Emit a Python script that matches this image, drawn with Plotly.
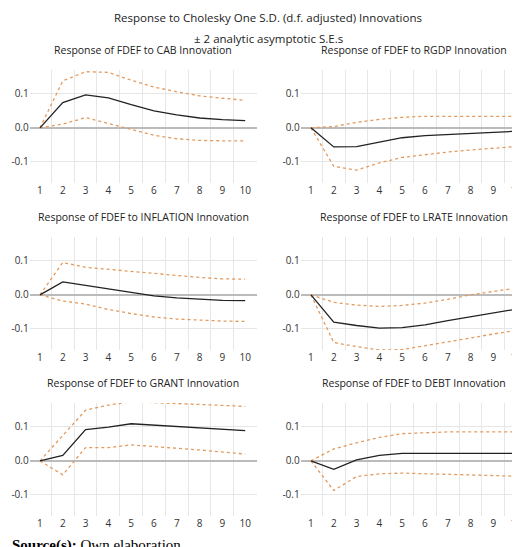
import plotly.graph_objects as go

steps = list(range(1, 11))
titles = ["Response of FDEF to CAB Innovation", "Response of FDEF to RGDP Innovation",
          "Response of FDEF to INFLATION Innovation", "Response of FDEF to LRATE Innovation",
          "Response of FDEF to GRANT Innovation", "Response of FDEF to DEBT Innovation"]
cab_mid = [0, 0.074, 0.097, 0.088, 0.068, 0.05, 0.038, 0.029, 0.024, 0.021]
cab_up = [0, 0.138, 0.165, 0.163, 0.14, 0.12, 0.106, 0.094, 0.087, 0.081]
cab_lo = [0, 0.011, 0.030, 0.013, -0.005, -0.022, -0.032, -0.037, -0.038, -0.038]
rgdp_mid = [0, -0.056, -0.055, -0.041, -0.029, -0.023, -0.019, -0.016, -0.013, -0.010]
rgdp_up = [0, 0.004, 0.016, 0.025, 0.031, 0.034, 0.034, 0.034, 0.034, 0.034]
rgdp_lo = [0, -0.113, -0.124, -0.103, -0.087, -0.078, -0.071, -0.065, -0.06, -0.055]
infl_mid = [0, 0.038, 0.028, 0.017, 0.006, -0.003, -0.009, -0.013, -0.016, -0.017]
infl_up = [0, 0.095, 0.081, 0.075, 0.068, 0.061, 0.056, 0.051, 0.047, 0.046]
infl_lo = [0, -0.018, -0.027, -0.043, -0.055, -0.065, -0.071, -0.075, -0.077, -0.078]
lrate_mid = [0, -0.08, -0.09, -0.098, -0.096, -0.088, -0.076, -0.065, -0.053, -0.042]
lrate_up = [0, -0.022, -0.03, -0.034, -0.031, -0.024, -0.013, 0, 0.01, 0.02]
lrate_lo = [0, -0.14, -0.152, -0.162, -0.161, -0.149, -0.137, -0.126, -0.115, -0.104]
grant_mid = [0, 0.016, 0.092, 0.099, 0.109, 0.105, 0.102, 0.098, 0.094, 0.089]
grant_up = [0, 0.074, 0.149, 0.164, 0.174, 0.171, 0.169, 0.167, 0.163, 0.160]
grant_lo = [0, -0.041, 0.039, 0.039, 0.047, 0.041, 0.037, 0.032, 0.026, 0.02]
debt_mid = [0, -0.025, 0.003, 0.016, 0.022, 0.022, 0.022, 0.022, 0.022, 0.022]
debt_up = [0, 0.035, 0.053, 0.069, 0.08, 0.083, 0.085, 0.085, 0.085, 0.085]
debt_lo = [0, -0.087, -0.046, -0.038, -0.036, -0.038, -0.040, -0.043, -0.044, -0.045]

panels = [(cab_mid, cab_up, cab_lo), (rgdp_mid, rgdp_up, rgdp_lo),
          (infl_mid, infl_up, infl_lo), (lrate_mid, lrate_up, lrate_lo),
          (grant_mid, grant_up, grant_lo), (debt_mid, debt_up, debt_lo)]

W, H = 520, 547
FONT = "Open Sans"
xdoms = [(21.7 / W, 248.6 / W), (292.7 / W, 519.6 / W)]
row_tops = [62, 229, 395]
PH = 113
fig = go.Figure()
layout = dict(width=W, height=H, margin=dict(l=0, r=0, t=0, b=0, autoexpand=False), showlegend=False,
              plot_bgcolor="white", paper_bgcolor="white",
              font=dict(family=FONT, size=10, color="#333"))
annotations = [
    dict(text="Response to Cholesky One S.D. (d.f. adjusted) Innovations", x=0.5, y=1 - 10 / H,
         xref="paper", yref="paper", xanchor="center", yanchor="middle", showarrow=False,
         font=dict(size=11.5, family=FONT, color="#222")),
    dict(text="± 2 analytic asymptotic S.E.s", x=0.5, y=1 - 31 / H,
         xref="paper", yref="paper", xanchor="center", yanchor="middle", showarrow=False,
         font=dict(size=11.5, family=FONT, color="#222")),
    dict(text="<b>Source(s):</b> Own elaboration", x=2 / W, y=1 - 537 / H, xanchor="left", yanchor="middle",
         xref="paper", yref="paper", showarrow=False, font=dict(size=15, family="Liberation Serif", color="#000")),
]
for i, (mid, up, lo) in enumerate(panels):
    r, c = divmod(i, 2)
    n = i + 1
    xa = "x" if n == 1 else f"x{n}"
    ya = "y" if n == 1 else f"y{n}"
    top = row_tops[r]
    ydom = (1 - (top + PH) / H, 1 - top / H)
    for ys, col, dash in [(up, "#E39A5E", "dot"), (lo, "#E39A5E", "dot"), (mid, "#222", "solid")]:
        fig.add_trace(go.Scatter(x=steps, y=ys, mode="lines", xaxis=xa, yaxis=ya,
                                 line=dict(color=col, width=1.3, dash=dash)))
    layout["xaxis" if n == 1 else f"xaxis{n}"] = dict(
        domain=xdoms[c], anchor=ya, range=[0.55, 10.5], tickvals=steps, showgrid=False, automargin=False,
        zeroline=False, showline=False, ticks="", tickfont=dict(size=10, color="#333"),
        minor=dict(tickvals=[k + 0.5 for k in range(1, 10)], showgrid=True, gridcolor="#e6e6e6", gridwidth=1))
    layout["yaxis" if n == 1 else f"yaxis{n}"] = dict(
        domain=ydom, anchor=xa, range=[-0.162, 0.17], tickvals=[-0.1, 0.0, 0.1], automargin=False,
        ticktext=["-0.1", "0.0", "0.1"], showgrid=True, gridcolor="#e6e6e6", zeroline=True,
        zerolinecolor="#bbbbbb", zerolinewidth=1.5, ticks="", tickfont=dict(size=10, color="#333"))
    annotations.append(dict(text=titles[i], x=sum(xdoms[c]) / 2, y=1 - (top - 20) / H,
                            xref="paper", yref="paper", xanchor="center", yanchor="middle", showarrow=False,
                            font=dict(size=10.5, family=FONT, color="#222")))
layout["annotations"] = annotations
fig.update_layout(**layout)
fig.write_html("out.html")
